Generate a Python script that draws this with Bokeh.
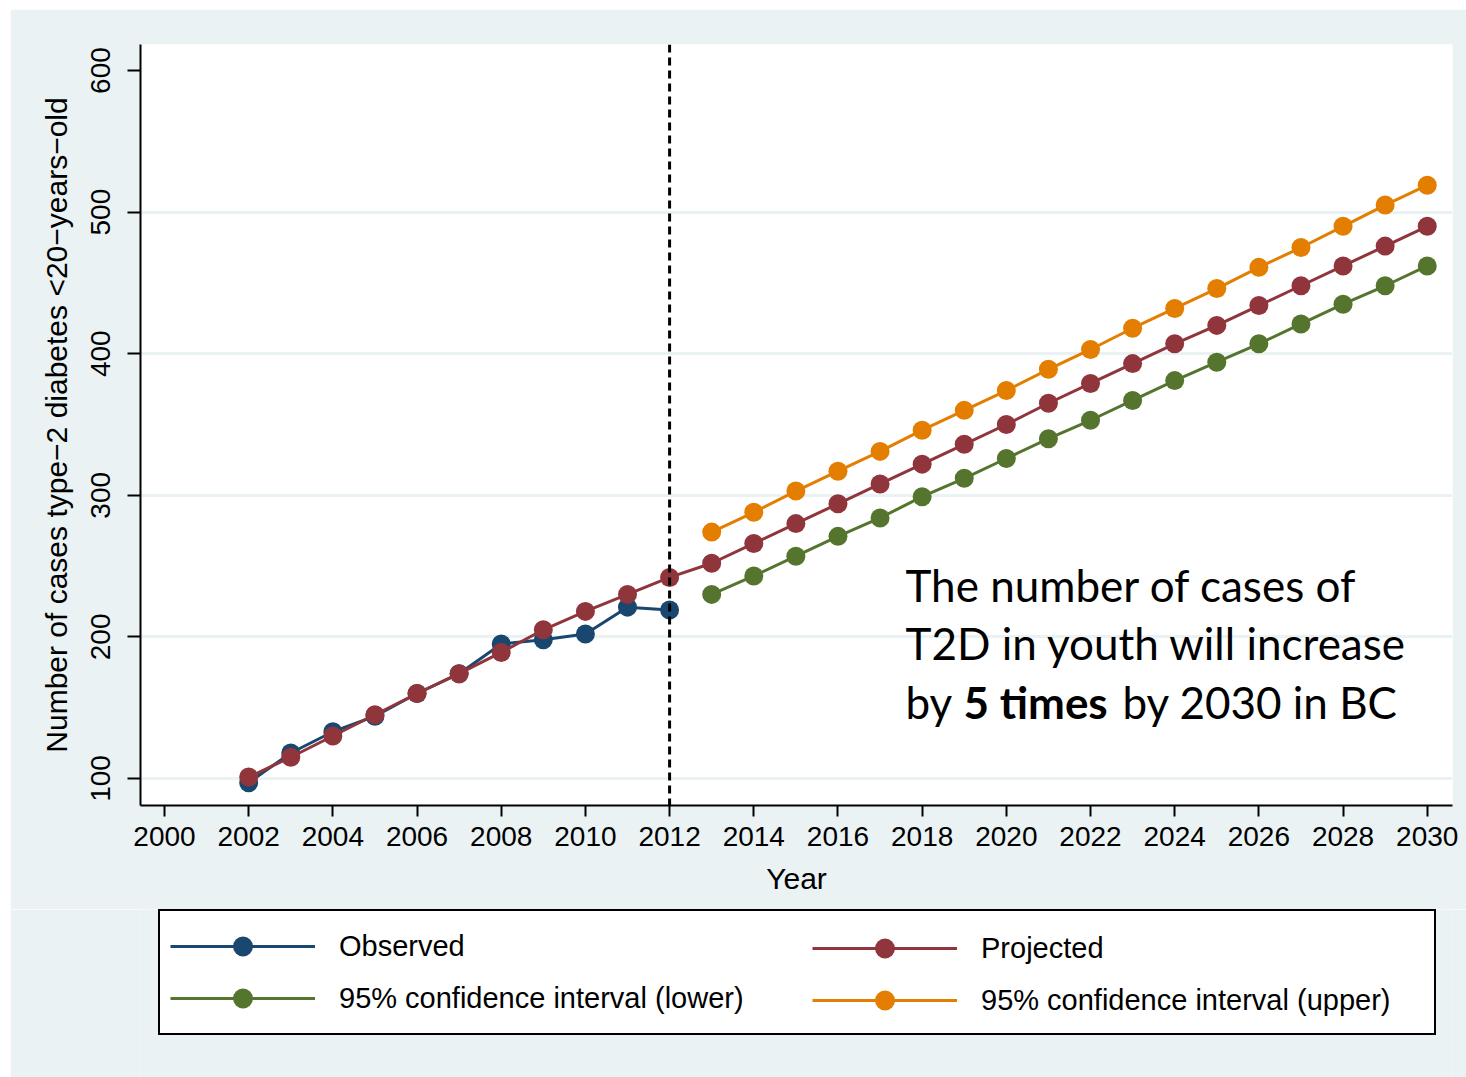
from bokeh.plotting import figure
from bokeh.layouts import column
from bokeh.models import Span, Label, Legend, LegendItem, FixedTicker, Range1d
from bokeh.embed import file_html
from bokeh.resources import INLINE

# ---- data ----
obs_years = list(range(2002, 2013))
observed = [97, 118, 133, 144, 160, 174, 195, 198, 202, 221, 219]

proj_years = list(range(2002, 2031))
projected = [101, 115, 130, 145, 160, 174, 189, 205, 218, 230, 242,
             252, 266, 280, 294, 308, 322, 336, 350, 365, 379, 393,
             407, 420, 434, 448, 462, 476, 490]

ci_years = list(range(2013, 2031))
lower = [230, 243, 257, 271, 284, 299, 312, 326, 340, 353, 367, 381,
         394, 407, 421, 435, 448, 462]
upper = [274, 288, 303, 317, 331, 346, 360, 374, 389, 403, 418, 432,
         446, 461, 475, 490, 505, 519]

x_ticks = list(range(2000, 2031, 2))
y_ticks = [100, 200, 300, 400, 500, 600]
grid_ticks = [100, 200, 300, 400, 500]
split_year = 2012

labels = ["Observed", "Projected", "95% confidence interval (lower)",
          "95% confidence interval (upper)"]
colors = ["#1A476F", "#90353B", "#55752F", "#E37E00"]

FONT = "Liberation Sans"
BG = "#EAF2F3"

p = figure(width=1456, height=900,
           x_range=Range1d(1999.43, 2030.6), y_range=Range1d(80.9, 618.4),
           output_backend="svg", toolbar_location=None,
           min_border_left=130, min_border_right=14,
           min_border_top=35, min_border_bottom=104,
           background_fill_color="white", border_fill_color=BG,
           outline_line_color=None)

# grid
p.xgrid.grid_line_color = None
p.ygrid.ticker = FixedTicker(ticks=grid_ticks)
p.ygrid.grid_line_color = BG
p.ygrid.grid_line_width = 3

# axes
p.xaxis.ticker = FixedTicker(ticks=x_ticks)
p.yaxis.ticker = FixedTicker(ticks=y_ticks)
for ax in (p.xaxis[0], p.yaxis[0]):
    ax.axis_line_color = "black"
    ax.axis_line_width = 2
    ax.major_tick_line_color = "black"
    ax.major_tick_line_width = 2
    ax.major_tick_in = 0
    ax.minor_tick_line_color = None
    ax.major_label_text_font = FONT
    ax.major_label_text_font_size = "28px"
    ax.major_label_text_color = "black"
    ax.axis_label_text_font = FONT
    ax.axis_label_text_font_size = "30px"
    ax.axis_label_text_font_style = "normal"
    ax.axis_label_text_color = "black"
p.xaxis.major_tick_out = 11
p.yaxis.major_tick_out = 13
p.xaxis.major_label_standoff = 10
p.yaxis.major_label_standoff = 17
p.yaxis.major_label_orientation = "vertical"
p.xaxis.axis_label = "Year"
p.yaxis.axis_label = "Number of cases type\u22122 diabetes <20\u2212years\u2212old"
p.xaxis.axis_label_standoff = 13
p.yaxis.axis_label_standoff = 16

# series
series = [(obs_years, observed), (proj_years, projected),
          (ci_years, lower), (ci_years, upper)]
for (xs, ys), c in zip(series, colors):
    p.line(xs, ys, line_color=c, line_width=3)
    p.scatter(xs, ys, size=19, fill_color=c, line_color=c, line_width=0)

# vertical dashed line
p.add_layout(Span(location=split_year, dimension="height", line_color="black",
                  line_width=3, line_dash="8 5"))

# annotation
ann_font = "Lato"
ann_size = "44px"
for txt, x, y, style in [
        ("The number of cases of", 765, 221, "normal"),
        ("T2D in youth will increase", 765, 163, "normal"),
        ("by", 765, 104, "normal"),
        ("5 times", 823, 104, "bold"),
        ("by 2030 in BC", 982, 104, "normal")]:
    p.add_layout(Label(x=x, y=y, x_units="screen", y_units="screen", text=txt,
                       text_font=ann_font, text_font_size=ann_size,
                       text_font_style=style, text_color="black",
                       text_baseline="alphabetic"))

# ---- legend strip (legend glyphs take their style from these renderers,
#      whose data lie outside this strip's ranges) ----
q = figure(width=1456, height=168, x_range=Range1d(0, 1), y_range=Range1d(0, 1),
           output_backend="svg", toolbar_location=None,
           x_axis_type=None, y_axis_type=None,
           min_border_left=0, min_border_right=0, min_border_top=0,
           min_border_bottom=0, background_fill_color=BG,
           border_fill_color=BG, outline_line_color=None)
q.xgrid.grid_line_color = None
q.ygrid.grid_line_color = None
rends = []
for (xs, ys), c in zip(series, colors):
    ln = q.line(xs, ys, line_color=c, line_width=3)
    sc = q.scatter(xs, ys, size=19, fill_color=c, line_color=c, line_width=0)
    rends.append([ln, sc])

common = dict(glyph_width=145, glyph_height=50, label_standoff=24,
              label_height=36, padding=10, spacing=2, margin=0,
              label_text_font=FONT, label_text_font_size="29px",
              label_text_color="black")
leg1 = Legend(items=[LegendItem(label=labels[0], renderers=rends[0]),
                     LegendItem(label=labels[2], renderers=rends[2])],
              location=(18, 42), label_width=1085,
              border_line_color="black", border_line_width=2,
              border_line_alpha=1.0,
              background_fill_color="white", background_fill_alpha=1.0,
              **common)
leg2 = Legend(items=[LegendItem(label=labels[1], renderers=rends[1]),
                     LegendItem(label=labels[3], renderers=rends[3])],
              location=(662, 42), border_line_alpha=0,
              background_fill_alpha=0, **common)
q.add_layout(leg1)
q.add_layout(leg2)

layout = column(p, q, spacing=0)
layout.margin = (9, 0, 0, 10)

open("out.html", "w").write(file_html(layout, INLINE))
